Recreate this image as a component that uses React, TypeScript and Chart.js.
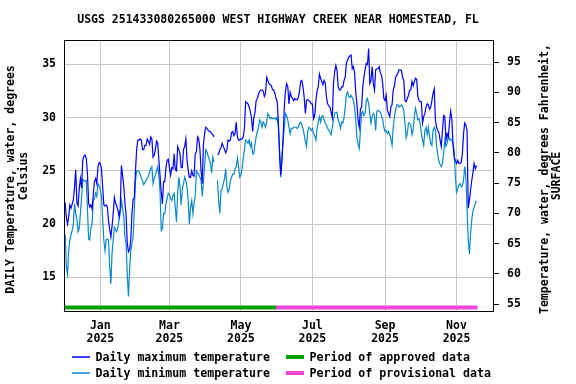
import React, { useEffect, useRef } from "react";
import { Chart, registerables } from "chart.js";

Chart.register(...registerables);

// ---------- text ----------
const chartTitle = "USGS 251433080265000 WEST HIGHWAY CREEK NEAR HOMESTEAD, FL";
const leftAxisTitle = ["DAILY Temperature, water, degrees ", "Celsius"];
const rightAxisTitle = ["Temperature, water, degrees Fahrenheit,", "SURFACE"];
const seriesLabels = ["Daily maximum temperature", "Daily minimum temperature"];
const periodLabels = ["Period of approved data", "Period of provisional data"];

// ---------- axes ----------
const seriesStartDate = "2024-12-01";
const axisStartDate = "2024-12-01";
const axisEndDate = "2025-12-03";
const monthTickDates = ["2025-01-01", "2025-03-01", "2025-05-01", "2025-07-01", "2025-09-01", "2025-11-01"];
const monthTickLabels = [
  ["Jan", "2025"],
  ["Mar", "2025"],
  ["May", "2025"],
  ["Jul", "2025"],
  ["Sep", "2025"],
  ["Nov", "2025"],
];
const celsiusTicks = [15, 20, 25, 30, 35];
const fahrenheitTicks = [55, 60, 65, 70, 75, 80, 85, 90, 95];
const celsiusRange = [11.74, 37.3];
const fahrenheitRange = [53.68, 98.64];

// ---------- periods ----------
const approvedPeriod = ["2024-12-01", "2025-05-31"];
const provisionalPeriod = ["2025-05-31", "2025-11-19"];
const periodBarLevel = 12.16;

// ---------- daily values (deg C), one per day from seriesStartDate ----------
const dailyMax = [
  22.1, 22.0, 20.6, 20.0, 20.7, 21.8, 21.5, 21.9, 22.3, 23.5,
  25.1, 22.0, 21.7, 23.3, 24.3, 23.4, 26.0, 26.4, 26.5, 26.2,
  24.8, 22.0, 21.6, 21.8, 21.4, 22.8, 24.0, 24.3, 23.8, 25.4,
  25.8, 25.7, 25.2, 23.5, 21.8, 21.7, 21.8, 21.6, 20.3, 19.5,
  18.8, 19.8, 21.0, 22.5, 22.0, 21.7, 21.3, 20.7, 21.5, 25.5,
  24.6, 23.6, 22.0, 20.8, 18.2, 17.4, 17.6, 18.6, 21.0, 22.3,
  22.5, 25.0, 27.0, 27.9, 27.9, 28.0, 27.9, 27.0, 27.0, 27.4,
  27.4, 28.0, 27.8, 27.5, 28.2, 28.0, 26.3, 26.5, 27.0, 27.8,
  27.6, 26.0, 24.5, 23.0, 21.9, 24.0, 24.0, 25.3, 26.0, 26.1,
  25.3, 24.6, 25.3, 25.2, 26.6, 25.1, 25.0, 27.3, 27.0, 26.6,
  25.3, 25.3, 27.0, 27.3, 28.0, 26.0, 25.1, 24.4, 24.4, 25.0,
  24.6, 24.5, 26.6, 26.8, 28.2, 28.0, 27.0, 25.0, 23.8, 27.5,
  28.5, 29.1, 29.0, 28.8, 28.7, 28.7, 28.5, 28.4, 28.2, null,
  null, 26.5, 26.6, 27.0, 27.2, 27.6, 27.3, 27.0, 26.7, 27.0,
  27.9, 27.8, 27.9, 28.6, 28.7, 28.3, 28.5, 29.6, 28.2, 27.9,
  27.9, 28.0, 28.0, 28.2, 29.0, 31.5, 31.4, 31.3, 31.0, 30.6,
  30.0, 28.7, 30.0, 30.5, 31.6, 31.8, 32.2, 32.5, 32.6, 32.6,
  32.5, 32.0, 32.3, 33.8, 33.5, 33.2, 33.1, 33.0, 32.6, 32.6,
  32.3, 31.8, 31.5, 29.5, 26.5, 24.6, 26.0, 28.0, 31.0, 32.5,
  33.2, 32.9, 31.3, 32.4, 32.0, 31.8, 31.6, 31.8, 31.7, 31.7,
  31.9, 32.5, 33.4, 33.5, 32.9, 31.9, 30.4, 31.6, 31.7, 31.6,
  31.5, 31.3, 31.3, 29.9, 30.2, 31.6, 32.5, 32.9, 34.1, 33.7,
  33.4, 33.1, 33.5, 33.3, 31.9, 31.3, 31.1, 31.0, 30.5, 30.0,
  33.2, 34.3, 34.9, 34.5, 32.9, 32.6, 32.6, 32.9, 32.9, 33.5,
  33.8, 35.1, 35.4, 35.7, 35.8, 35.9, 34.6, 34.8, 34.2, 32.4,
  31.3, 29.8, 29.1, 30.8, 31.0, 32.9, 33.8, 34.5, 35.1, 35.0,
  36.5, 33.2, 33.5, 34.8, 33.2, 32.6, 34.5, 34.6, 34.6, 34.8,
  34.2, 34.0, 33.2, 31.8, 31.6, 32.1, 30.7, 30.4, 30.1, 31.0,
  31.2, 32.6, 33.0, 33.8, 34.0, 34.2, 34.5, 34.5, 34.4, 33.8,
  33.5, 31.6, 31.5, 31.8, 32.1, 32.6, 32.6, 33.4, 33.0, 33.4,
  33.7, 33.6, 32.0, 31.6, 31.5, 31.5, 29.5, 30.1, 30.4, 31.0,
  31.3, 31.2, 30.8, 31.0, 31.6, 32.3, 32.7, 29.8, 29.1, 28.8,
  28.6, 27.9, 27.3, 28.8, 30.2, 30.1, 27.9, 28.5, 28.2, 29.5,
  30.6, 29.9, 27.5, 26.3, 26.0, 25.7, 26.0, 25.7, 25.7, 25.8,
  26.6, 28.5, 29.5, 29.3, 28.8, 21.5, 22.2, 23.2, 24.1, 24.8,
  25.7, 25.2, 25.5,
];

const dailyMin = [
  18.0, 19.0, 16.0, 15.3, 17.5, 18.5, 19.0, 19.4, 20.0, 21.9,
  21.0, 20.5, 19.3, 19.6, 21.0, 22.5, 24.2, 24.1, 24.0, 24.1,
  21.5, 18.6, 18.5, 19.7, 20.0, 22.2, 22.4, 22.9, 22.6, 23.8,
  23.6, 23.2, 22.6, 20.5, 18.5, 17.5, 18.5, 18.6, 18.5, 16.0,
  14.4, 17.2, 18.5, 19.7, 19.5, 19.3, 19.7, 20.4, 21.0, 22.2,
  21.5, 20.7, 18.8, 18.2, 15.3, 13.2, 15.7, 17.5, 18.2, 18.8,
  21.3, 24.0, 25.0, 25.0, 24.9, 24.7, 24.3, 24.1, 23.7, 23.9,
  24.1, 24.3, 24.5, 24.9, 25.2, 25.4, 23.8, 24.3, 24.6, 25.0,
  25.4, 24.5, 23.0, 19.4, 19.6, 21.0, 21.0, 21.9, 22.4, 22.9,
  22.8, 22.4, 22.2, 22.7, 22.9, 21.5, 20.2, 22.9, 24.4, 23.5,
  21.8, 23.3, 23.8, 24.4, 24.1, 23.5, 22.2, 20.0, 21.6, 22.2,
  21.0, 22.0, 22.6, 25.0, 24.8, 24.7, 24.4, 24.1, 22.6, 24.0,
  25.5, 27.0, 26.8, 26.4, 26.1, 25.7, 24.8, 26.3, 25.8, null,
  null, 24.1, 22.2, 21.0, 23.2, 23.3, 23.8, 24.3, 25.2, 23.5,
  23.0, 23.3, 24.1, 24.4, 24.7, 24.7, 25.2, 25.4, 26.2, 25.4,
  24.4, 24.6, 25.2, 26.2, 27.0, 27.9, 27.8, 27.6, 27.9, 27.3,
  27.6, 26.6, 26.6, 27.5, 28.2, 28.7, 29.1, 29.8, 29.6, 29.1,
  29.6, 29.4, 29.1, 29.6, 30.4, 30.2, 29.9, 30.0, 29.9, 29.9,
  30.0, 29.8, 30.0, 29.0, 27.0, 24.4, 26.2, 27.9, 29.1, 30.4,
  30.2, 29.8, 29.1, 28.5, 29.0, 29.0, 29.1, 29.1, 29.1, 29.0,
  29.1, 29.5, 29.6, 29.3, 29.0, 28.4, 27.8, 27.3, 28.7, 29.1,
  29.0, 28.8, 29.0, 28.5, 28.3, 27.9, 29.0, 29.6, 30.1, 29.6,
  30.1, 30.2, 29.8, 29.5, 29.3, 29.0, 28.8, 28.6, 28.4, 29.1,
  29.8, 30.4, 30.5, 30.5, 29.8, 29.5, 29.0, 29.6, 29.5, 30.0,
  31.0, 32.2, 32.4, 32.0, 31.9, 32.1, 31.9, 31.6, 31.0, 29.8,
  28.2, 27.5, 27.1, 28.8, 30.4, 30.6, 30.2, 30.4, 31.6, 31.8,
  31.3, 30.4, 29.5, 30.1, 30.4, 30.2, 28.8, 30.6, 30.7, 30.6,
  30.5, 30.2, 29.8, 29.1, 28.7, 28.8, 28.5, 28.7, 28.4, 28.0,
  27.4, 29.1, 30.1, 30.7, 31.2, 31.2, 31.0, 31.1, 31.2, 31.0,
  30.7, 29.5, 28.1, 28.5, 29.5, 29.5, 29.3, 28.4, 28.8, 30.1,
  30.9, 30.4, 29.8, 29.9, 29.5, 28.5, 27.9, 27.4, 28.8, 29.1,
  28.4, 29.1, 28.2, 27.6, 27.4, 28.8, 29.1, 28.8, 27.3, 26.5,
  25.9, 25.6, 25.4, 25.7, 26.6, 27.9, 27.3, 27.6, 28.5, 27.9,
  28.0, 27.9, 27.6, 26.9, 24.5, 23.0, 23.3, 23.7, 23.8, 23.5,
  23.6, 24.1, 25.4, 24.4, 21.5, 18.5, 17.2, 19.1, 20.4, 21.2,
  21.6, 21.9, 22.2,
];

// ---------- styles ----------
const FONT_FAMILY = "'DejaVu Sans Mono', monospace";
const MAX_COLOR = "#0000ff";
const MIN_COLOR = "#0a88cc";
const APPROVED_COLOR = "#00a000";
const PROVISIONAL_COLOR = "#f044dc";
const GRID_COLOR = "#c8c8c8";

const dayIndex = (s: string) =>
  Math.round((Date.parse(s + "T00:00:00Z") - Date.parse(seriesStartDate + "T00:00:00Z")) / 86400000);

const boldFont = (size: number, lineHeight = 1.2) => ({
  family: FONT_FAMILY,
  size,
  weight: "bold" as const,
  lineHeight,
});

const decorPlugin = {
  id: "decor",
  afterDraw(chart: any) {
    const { ctx, chartArea: a } = chart;
    ctx.save();
    // frame around plot area
    ctx.strokeStyle = "#000";
    ctx.lineWidth = 1;
    ctx.strokeRect(Math.round(a.left) + 0.5, Math.round(a.top) + 0.5, Math.round(a.width) - 1, Math.round(a.height) - 1);

    ctx.fillStyle = "#000";
    ctx.font = `bold 11.5px ${FONT_FAMILY}`;
    ctx.textAlign = "center";
    ctx.textBaseline = "middle";
    // right axis title (reads bottom to top)
    const rightTitlePos = [
      [545, 179],
      [557, 176],
    ];
    rightAxisTitle.forEach((line, i) => {
      ctx.save();
      ctx.translate(rightTitlePos[i][0], rightTitlePos[i][1]);
      ctx.rotate(-Math.PI / 2);
      ctx.fillText(line, 0, 0);
      ctx.restore();
    });

    // legend: rows x columns of dataset indices
    const legendGrid = [
      [0, 2],
      [1, 3],
    ];
    const colX = [72, 286];
    const rowY = [357, 373];
    const sampleW = 18;
    ctx.font = `bold 11.6px ${FONT_FAMILY}`;
    ctx.textAlign = "left";
    legendGrid.forEach((row, r) => {
      row.forEach((dsIndex, c) => {
        const ds = chart.data.datasets[dsIndex];
        const x = colX[c];
        const y = rowY[r];
        ctx.beginPath();
        ctx.strokeStyle = ds.borderColor;
        ctx.lineWidth = dsIndex < 2 ? 1.5 : 4;
        ctx.lineCap = "butt";
        ctx.moveTo(x, y);
        ctx.lineTo(x + sampleW, y);
        ctx.stroke();
        ctx.fillStyle = "#000";
        ctx.fillText(ds.label, x + sampleW + 5.5, y + 0.5);
      });
    });
    ctx.restore();
  },
};

export default function App() {
  const canvasRef = useRef<HTMLCanvasElement | null>(null);

  useEffect(() => {
    if (!canvasRef.current) return;
    const chart = new Chart(canvasRef.current, {
      type: "line",
      data: {
        datasets: [
          {
            label: seriesLabels[0],
            data: dailyMax.map((v, i) => ({ x: i, y: v })),
            borderColor: MAX_COLOR,
            borderWidth: 1.2,
            pointRadius: 0,
            spanGaps: false,
            yAxisID: "y",
          },
          {
            label: seriesLabels[1],
            data: dailyMin.map((v, i) => ({ x: i, y: v })),
            borderColor: MIN_COLOR,
            borderWidth: 1.2,
            pointRadius: 0,
            spanGaps: false,
            yAxisID: "y",
          },
          {
            label: periodLabels[0],
            data: approvedPeriod.map((d) => ({ x: dayIndex(d), y: periodBarLevel })),
            borderColor: APPROVED_COLOR,
            borderWidth: 4,
            borderCapStyle: "butt",
            pointRadius: 0,
            yAxisID: "y",
          },
          {
            label: periodLabels[1],
            data: provisionalPeriod.map((d) => ({ x: dayIndex(d), y: periodBarLevel })),
            borderColor: PROVISIONAL_COLOR,
            borderWidth: 4,
            borderCapStyle: "butt",
            pointRadius: 0,
            yAxisID: "y",
          },
        ],
      },
      options: {
        responsive: false,
        animation: false,
        events: [],
        layout: { padding: { left: 0, right: 20, top: 0, bottom: 0 } },
        plugins: {
          legend: { display: false },
          tooltip: { enabled: false },
          title: {
            display: true,
            text: chartTitle,
            color: "#000",
            font: boldFont(11.5, 1.2),
            padding: { top: 13.4, bottom: 12.8 },
          },
        },
        scales: {
          x: {
            type: "linear",
            position: "bottom",
            min: dayIndex(axisStartDate),
            max: dayIndex(axisEndDate),
            afterBuildTicks: (s: any) => {
              s.ticks = monthTickDates.map((d) => ({ value: dayIndex(d) }));
            },
            afterFit: (s: any) => {
              s.height = 72;
            },
            grid: { color: GRID_COLOR, lineWidth: 1, drawTicks: false },
            border: { display: false },
            ticks: {
              autoSkip: false,
              maxRotation: 0,
              minRotation: 0,
              padding: 7.5,
              color: "#000",
              font: boldFont(11.5, 1.13),
              callback: (_v: any, i: number) => monthTickLabels[i],
            },
          },
          y: {
            type: "linear",
            position: "left",
            min: celsiusRange[0],
            max: celsiusRange[1],
            afterBuildTicks: (s: any) => {
              s.ticks = celsiusTicks.map((v) => ({ value: v }));
            },
            afterFit: (s: any) => {
              s.width = 64;
            },
            grid: { color: GRID_COLOR, lineWidth: 1, drawTicks: false },
            border: { display: false },
            ticks: {
              padding: 8,
              color: "#000",
              font: boldFont(11.5),
              callback: (v: any) => String(v),
            },
            title: {
              display: true,
              text: leftAxisTitle,
              color: "#000",
              font: boldFont(11.5, 1.087),
              padding: { top: 5.25, bottom: 0 },
            },
          },
          y2: {
            type: "linear",
            position: "right",
            min: fahrenheitRange[0],
            max: fahrenheitRange[1],
            afterBuildTicks: (s: any) => {
              s.ticks = fahrenheitTicks.map((v) => ({ value: v }));
            },
            afterFit: (s: any) => {
              s.width = 62;
            },
            grid: { drawOnChartArea: false, drawTicks: true, tickLength: 5, color: "#000", lineWidth: 1 },
            border: { display: false },
            ticks: {
              padding: 8,
              color: "#000",
              font: boldFont(11.5),
              callback: (v: any) => String(v),
            },
          },
        },
      } as any,
      plugins: [decorPlugin],
    });
    return () => chart.destroy();
  }, []);

  return (
    <div style={{ position: "fixed", left: 0, top: 0, width: 576, height: 384, background: "#fff" }}>
      <canvas ref={canvasRef} width={576} height={384} style={{ display: "block", width: 576, height: 384 }} />
    </div>
  );
}
